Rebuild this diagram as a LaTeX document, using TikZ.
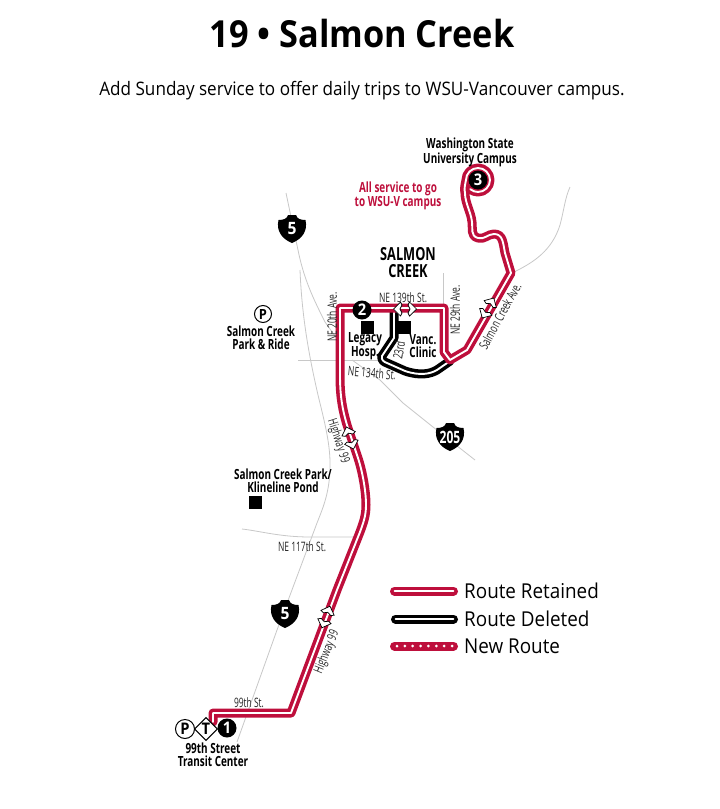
\documentclass[tikz,border=0pt]{standalone}
\usepackage{fontspec}
\setmainfont{Open Sans}
\newfontfamily\cond[FakeStretch=0.65]{Open Sans}
\newfontfamily\placef[FakeStretch=0.71]{Open Sans}
\newfontfamily\semi[FakeStretch=0.92]{Open Sans}
\definecolor{routered}{RGB}{190,15,60}
\definecolor{roadgrey}{RGB}{200,200,200}
\tikzset{
 roadline/.style={draw=roadgrey,line width=0.8pt},
 retained/.style={preaction={draw=routered,line width=9pt,line join=round,line cap=round},draw=white,line width=1.9pt,line join=round,line cap=round},
 deleted/.style={preaction={draw=black,line width=9pt,line join=round,line cap=round},draw=white,line width=1.9pt,line join=round,line cap=round},
 streetlabel/.style={font=\cond\fontsize{13}{14}\selectfont,text=black!85,inner sep=0pt},
 placelabel/.style={font=\placef\bfseries\fontsize{14}{13}\selectfont,align=center,inner sep=0pt},
 stopdot/.style={circle,fill=black,inner sep=0pt,minimum size=20pt,text=white,font=\semi\bfseries\fontsize{16}{16}\selectfont},
 parkcircle/.style={circle,draw=black,fill=white,line width=1pt,inner sep=0pt,minimum size=19pt,font=\semi\bfseries\fontsize{16}{16}\selectfont},
 landmark/.style={rectangle,fill=black,inner sep=0pt,minimum size=13pt},
 legendtext/.style={font=\semi\fontsize{20.5}{21}\selectfont,anchor=west,inner sep=0pt},
 shieldtext/.style={text=white,font=\semi\bfseries\fontsize{17}{17}\selectfont,inner sep=0pt},
}
\newcommand{\shieldat}[2]{%
 \fill[black,shift={(#1,#2)}]
 (-13.5,-9) .. controls (-8,-9) and (-5,-10.5) .. (-4,-14)
 -- (4,-14) .. controls (5,-10.5) and (8,-9) .. (13.5,-9)
 .. controls (16,2) and (10,10) .. (0,14)
 .. controls (-10,10) and (-16,2) .. (-13.5,-9) -- cycle;}
\newcommand{\dirarrows}[3]{%
 \begin{scope}[shift={(#1,#2)},rotate=#3]
 \draw[black,fill=white,line width=0.7pt,line join=miter]
 (-11.5,0) -- (-4.5,-7) -- (-3,-4) -- (-5,0) -- (-3,4) -- (-4.5,7) -- cycle;
 \draw[black,fill=white,line width=0.7pt,line join=miter]
 (11.5,0) -- (4.5,-7) -- (3,-4) -- (5,0) -- (3,4) -- (4.5,7) -- cycle;
 \end{scope}}
\begin{document}
\begin{tikzpicture}[x=1pt,y=-1pt]
\useasboundingbox (0,0) rectangle (720,809);
\fill[white] (0,0) rectangle (720,809);

\node[font=\semi\bfseries\fontsize{37.3}{38}\selectfont,inner sep=0pt] (title) at (362,34) {19 • Salmon Creek};
\node[font=\semi\fontsize{18.6}{19}\selectfont,inner sep=0pt] (subtitle) at (362,91) {Add Sunday service to offer daily trips to WSU-Vancouver campus.};

% roads
\draw[roadline] (286,193) -- (298,250) .. controls (304,280) and (314,300) .. (325,322) -- (340,343);
\draw[roadline] (300,270) .. controls (302,320) and (310,360) .. (318,395) .. controls (324,420) and (331,445) .. (330,470) .. controls (329,495) and (322,510) .. (317,523) -- (277,630) -- (237,742);
\draw[roadline] (298,360) -- (384,360);
\draw[roadline] (352,360) -- (380,380) -- (403,403) -- (433,427) -- (475,460);
\draw[roadline] (443,273) -- (443,306);
\draw[roadline] (512,273) .. controls (535,262) and (552,250) .. (560,225) .. controls (564,210) and (565,198) .. (570,187);
\draw[roadline] (242,529) .. controls (260,531) and (280,537) .. (310,537) -- (358,537);

% shields
\shieldat{292}{229}
\node[shieldtext] (shieldA) at (292,229) {5};
\shieldat{285}{614}
\node[shieldtext] (shieldB) at (285,614) {5};
\shieldat{450}{437}
\node[shieldtext,font=\placef\bfseries\fontsize{17}{17}\selectfont] (shieldC) at (450,437) {205};

% deleted route
\draw[deleted] (394,312) -- (394,338) -- (382,356) .. controls (381,360) and (384,362) .. (387,363) -- (405,371) .. controls (420,376) and (430,374) .. (437,370) -- (450,361);

% retained route
\draw[retained] (213,722) -- (213,713) -- (291,713) -- (337,590) -- (358,537)
 .. controls (364,522) and (366,515) .. (366,505) .. controls (366,490) and (362,470) .. (358,458)
 -- (347,425) .. controls (342,408) and (340,395) .. (340,375) -- (340,308) -- (444,308) -- (444,352)
 -- (450,360) -- (467,350) -- (511,273) -- (505,253)
 .. controls (503,243) and (503,234) .. (494,234) .. controls (488,234) and (484,240) .. (478,238)
 .. controls (470,236) and (473,228) .. (472,222) .. controls (471,212) and (465,203) .. (465,193)
 .. controls (464,189) and (465,185) .. (466,180) arc[start angle=180,end angle=-130,radius=12pt];

% direction markers
\dirarrows{405}{309}{0}
\dirarrows{350}{438}{-72}
\dirarrows{488}{308}{60}
\dirarrows{326}{617}{69.5}

% stops
\node[stopdot,minimum size=19pt] (stopB) at (362,310) {2};
\node[stopdot,minimum size=19pt] (stopC) at (478,180) {3};
\node[parkcircle] (parkA) at (185,729) {P};
\node[draw=black,fill=white,line width=1pt,shape=rectangle,rotate=45,minimum size=16pt,inner sep=0pt] (transit) at (206,729) {};
\node[font=\semi\bfseries\fontsize{16}{16}\selectfont,inner sep=0pt] (transitT) at (206,729) {T};
\node[stopdot,minimum size=19pt] (stopA) at (227,728) {1};
\node[parkcircle,minimum size=17pt,font=\semi\bfseries\fontsize{14}{14}\selectfont] (parkB) at (263,314) {P};

% landmarks
\node[landmark] (lmA) at (367,327) {};
\node[landmark] (lmB) at (404,327) {};
\node[landmark] (lmC) at (255,502) {};

% place labels
\node[placelabel] (wsu) at (470,152) {Washington State\\University Campus};
\node[placelabel,text=routered] (allsvc) at (398,196) {All service to go\\to WSU-V campus};
\node[placelabel,font=\placef\bfseries\fontsize{18}{17}\selectfont] (sc) at (408,263) {SALMON\\CREEK};
\node[placelabel] (legacy) at (365,346) {Legacy\\Hosp.};
\node[placelabel] (vanc) at (423,346) {Vanc.\\Clinic};
\node[placelabel] (parkride) at (261,338) {Salmon Creek\\Park \& Ride};
\node[placelabel] (pond) at (283,481) {Salmon Creek Park/\\Klineline Pond};
\node[placelabel] (tc) at (213,755) {99th Street\\Transit Center};

% street labels
\node[streetlabel] (s139) at (403,298) {NE 139th St.};
\node[streetlabel,rotate=90] (s20) at (332,317) {NE 20th Ave.};
\node[streetlabel,rotate=90] (s29) at (455,310) {NE 29th Ave.};
\node[streetlabel,rotate=80] (s23) at (399,350) {23rd};
\node[streetlabel,rotate=-5] (s134) at (372,373) {NE 134th St.};
\node[streetlabel,rotate=61] (sca) at (500,316) {Salmon Creek Ave.};
\node[streetlabel,rotate=-72] (h99a) at (338,441) {Highway 99};
\node[streetlabel,rotate=68] (h99b) at (327,652) {Highway 99};
\node[streetlabel] (s117) at (302,547) {NE 117th St.};
\node[streetlabel] (s99) at (249,703) {99th St.};

% legend
\coordinate (l1a) at (394.5,591); \coordinate (l1b) at (453.5,591);
\coordinate (l2a) at (395.5,619); \coordinate (l2b) at (453.5,619);
\coordinate (l3a) at (394.5,646); \coordinate (l3b) at (453.5,646);
\draw[retained] (l1a) -- (l1b);
\draw[deleted] (l2a) -- (l2b);
\draw[draw=routered,line width=9pt,line cap=round] (l3a) -- (l3b);
\draw[white,line width=3pt,line cap=round,dash pattern=on 0pt off 7.86pt] (397,646) -- (453,646);
\node[legendtext] (t1) at (464,591) {Route Retained};
\node[legendtext] (t2) at (464,619) {Route Deleted};
\node[legendtext] (t3) at (464,646) {New Route};
\end{tikzpicture}
\end{document}
